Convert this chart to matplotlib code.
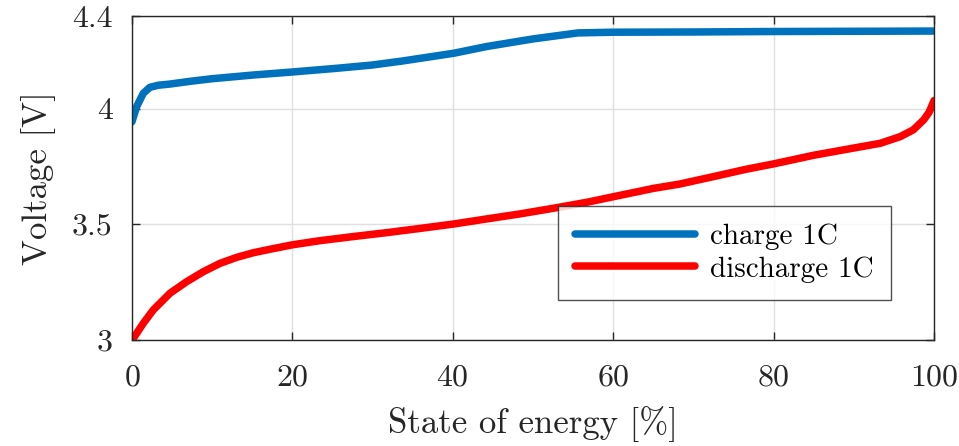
import matplotlib
matplotlib.use("Agg")
import matplotlib.pyplot as plt

plt.rcParams['font.family'] = 'serif'
plt.rcParams['font.serif'] = ['cmr10', 'DejaVu Serif']
plt.rcParams['mathtext.fontset'] = 'cm'
plt.rcParams['axes.formatter.use_mathtext'] = True

charge_soe = [0, 0.58, 1.41, 2.24, 3.3, 4.74, 7.3, 9.98, 15.1, 19.95, 25.5, 29.9, 33.8,
              40.1, 44.2, 50.0, 55.6, 60, 70, 80, 90, 100]
charge_v = [3.943, 4.008, 4.066, 4.092, 4.101, 4.106, 4.118, 4.129, 4.145, 4.158, 4.174, 4.188, 4.206,
            4.239, 4.268, 4.301, 4.327, 4.330, 4.331, 4.333, 4.334, 4.335]

dis_soe = [0, 0.17, 1.41, 2.66, 4.74, 6.82, 8.89, 10.97, 13.05, 15.13, 17.2, 19.95, 23.4, 27.6,
           31.8, 35.9, 40.06, 44.2, 48.4, 52.5, 56.7, 60.0, 65.0, 68.3, 72.5, 76.6, 80.0,
           84.95, 89.1, 93.3, 95.8, 97.4, 98.7, 99.4, 100]
dis_v = [3.0, 3.007, 3.072, 3.130, 3.202, 3.252, 3.295, 3.331, 3.357, 3.377, 3.392, 3.411, 3.429, 3.447,
         3.464, 3.482, 3.501, 3.523, 3.545, 3.569, 3.595, 3.619, 3.655, 3.674, 3.706, 3.738, 3.761,
         3.798, 3.824, 3.850, 3.879, 3.908, 3.951, 3.985, 4.035]

xticks = [0, 20, 40, 60, 80, 100]
yticks = [3, 3.5, 4, 4.4]
ytick_labels = ['3', '3.5', '4', '4.4']

fig = plt.figure(figsize=(9.59, 4.46), dpi=100)
ax = fig.add_axes([0.1376, 0.2377, 0.8364, 0.7264])

ax.plot(charge_soe, charge_v, color='#0072BD', lw=5.4, solid_capstyle='round', label='charge 1C')
ax.plot(dis_soe, dis_v, color='#FF0000', lw=5.4, solid_capstyle='round', label='discharge 1C')

ax.set_xlim(0, 100)
ax.set_ylim(3, 4.4)
ax.set_xticks(xticks)
ax.set_yticks(yticks)
ax.set_yticklabels(ytick_labels)
ax.grid(True, color='#e0e0e0', lw=1.0)
ax.set_axisbelow(True)
ax.tick_params(direction='in', top=True, right=True, length=6, width=1.0, labelsize=23, colors='#262626')
ax.tick_params(axis='y', pad=14)
ax.tick_params(axis='x', pad=17)
for s in ax.spines.values():
    s.set_color('#262626')
    s.set_linewidth(1.0)
ax.set_xlabel('State of energy [%]', fontsize=25, color='#262626', labelpad=11)
ax.set_ylabel('Voltage [V]', fontsize=25, color='#262626', labelpad=11)

leg = ax.legend(loc='lower left', bbox_to_anchor=(0.531, 0.123), borderaxespad=0,
                fontsize=21, frameon=True, fancybox=False, edgecolor='#262626',
                handlelength=4.1, handletextpad=0.5, borderpad=0.6, labelspacing=0.2)
leg.get_frame().set_linewidth(1.0)

fig.savefig('out.png', dpi=100)
